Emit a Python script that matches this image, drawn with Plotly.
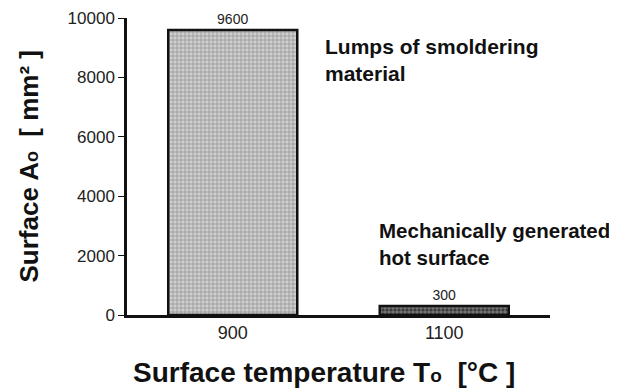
import plotly.graph_objects as go

categories = ["900", "1100"]
values = [9600, 300]
value_labels = ["9600", "300"]
y_ticks = [0, 2000, 4000, 6000, 8000, 10000]
y_tick_text = ["0", "2000", "4000", "6000", "8000", "10000"]

FONT = "Liberation Sans, Arial, Helvetica"

fig = go.Figure()
fig.add_trace(go.Bar(
    x=categories, y=values, width=0.61,
    marker=dict(color=["#d0d0d0", "#3c3c3c"],
                line=dict(color="#111111", width=2.5),
                pattern=dict(shape="+", fgcolor=["#8a8a8a", "#b5b5b5"], size=4, solidity=0.3)),
    text=value_labels, textposition="outside", cliponaxis=False,
    textfont=dict(family=FONT, size=14, color="#222222"),
))

fig.add_annotation(x=0.425, y=8600, xref="x", yref="y", xanchor="left", yanchor="middle",
                   text="<b>Lumps of smoldering<br>material</b>", showarrow=False, align="left",
                   font=dict(family=FONT, size=21, color="#111111"))
fig.add_annotation(x=0.684, y=2400, xref="x", yref="y", xanchor="left", yanchor="middle",
                   text="<b>Mechanically generated<br>hot surface</b>", showarrow=False, align="left",
                   font=dict(family=FONT, size=20.5, color="#111111"))

# axis titles
fig.add_annotation(x=0.466, y=0, xref="paper", yref="paper", yshift=-57,
                   xanchor="center", yanchor="middle", showarrow=False,
                   text="<b>Surface temperature T<span style='font-size:19px'>o</span>  [°C ]</b>",
                   font=dict(family=FONT, size=28, color="#111111"))
fig.add_annotation(x=0, y=0.5, xref="paper", yref="paper", xshift=-99,
                   xanchor="center", yanchor="middle", showarrow=False, textangle=-90,
                   text="<b>Surface A<span style='font-size:18px'>o</span>  [ mm² ]</b>",
                   font=dict(family=FONT, size=26, color="#111111"))

fig.update_layout(
    width=617, height=388,
    margin=dict(l=119, r=75, t=10, b=81),
    paper_bgcolor="white", plot_bgcolor="white",
    showlegend=False,
    font=dict(family=FONT, color="#222222"),
    xaxis=dict(range=[-0.5, 1.5], showline=True, linecolor="#111111", linewidth=2.5,
               ticks="", tickfont=dict(size=18), showgrid=False, automargin=False),
    yaxis=dict(range=[0, 10000], tickvals=y_ticks, ticktext=y_tick_text,
               showline=True, linecolor="#111111", linewidth=2.5,
               ticks="outside", ticklen=6, tickcolor="#111111", tickfont=dict(size=17),
               showgrid=False, zeroline=False, automargin=False),
)

fig.write_html("out.html")
